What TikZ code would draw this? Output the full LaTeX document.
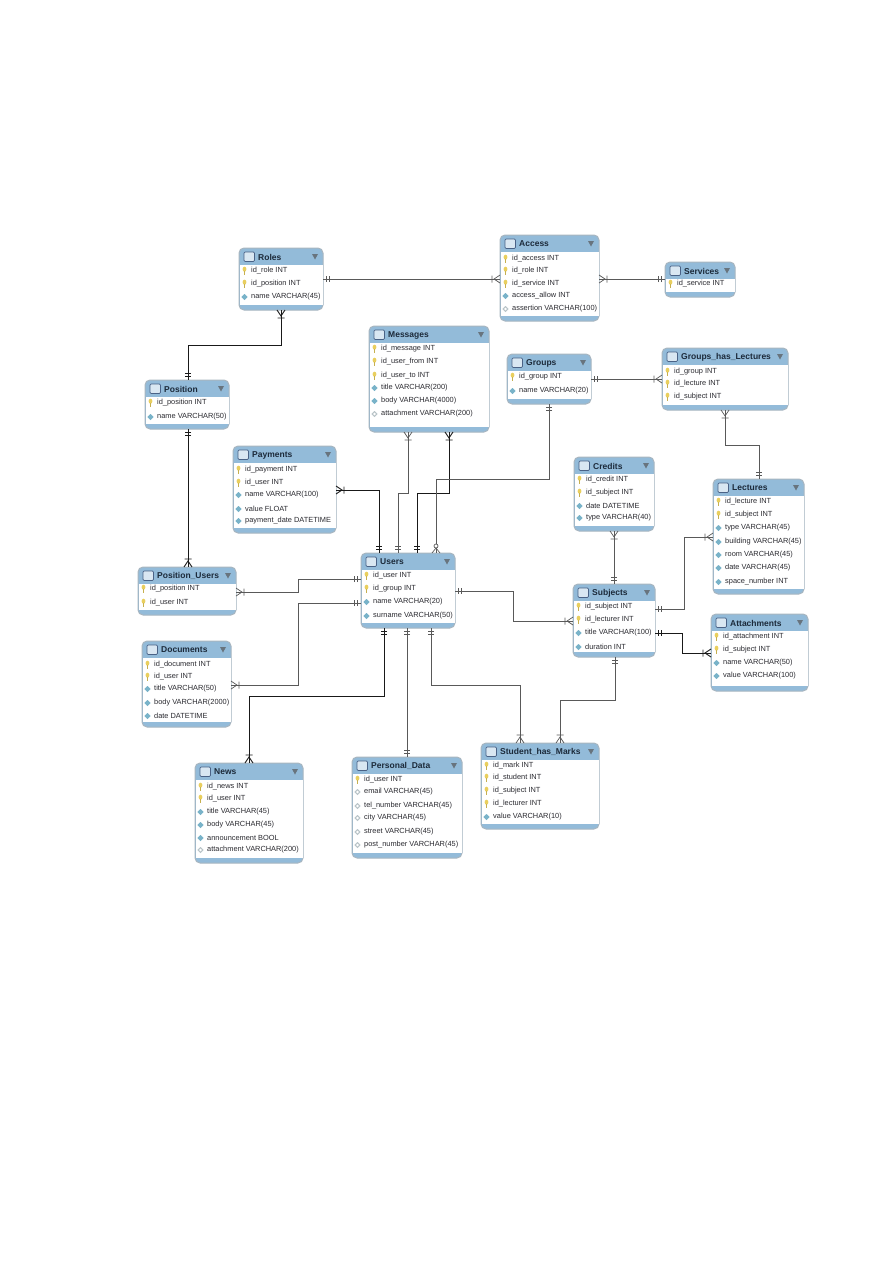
\documentclass[tikz,border=0pt]{standalone}
\usepackage{fontspec}
\setmainfont{Liberation Sans}
\definecolor{hdr}{HTML}{93BBD9}
\definecolor{edgec}{HTML}{A8B6C0}
\definecolor{titlec}{HTML}{1C2A3A}
\definecolor{rowc}{HTML}{2A2A30}
\definecolor{keyc}{HTML}{E9CF5E}
\definecolor{nnc}{HTML}{79B3C9}
\definecolor{nullc}{HTML}{B9C4C8}
\definecolor{tric}{HTML}{68747E}
\definecolor{iconc}{HTML}{4A6286}
\tikzset{
  x=1pt,y=-1pt,
  tablebox/.style={draw=edgec,line width=1pt,fill=hdr,rounded corners=5pt,inner sep=0pt,outer sep=0pt},
  tabletitle/.style={anchor=west,inner sep=0pt,font=\fontsize{8.5}{9}\selectfont\bfseries,text=titlec},
  rowtext/.style={anchor=west,inner sep=0pt,font=\fontsize{7.4}{9}\selectfont,text=rowc},
  rel/.style={draw=black!65,line width=0.7pt},
  relbold/.style={draw=black!90,line width=0.9pt},
  pics/one/.style={code={
    \draw (3.3,-3) -- (3.3,3) (6.3,-3) -- (6.3,3);}},
  pics/crow/.style={code={
    \draw (0,-4) -- (6,0) -- (0,4) (8,-3.5) -- (8,3.5);}},
  pics/zcrow/.style={code={
    \draw (0,-4) -- (5,0) -- (0,4);
    \draw[fill=white] (7,0) circle (2);}},
}
\newcommand\iconk[2]{%
  \fill[keyc] ({#1},{#2-1.8}) ellipse (1.9pt and 2.5pt);
  \fill[keyc!85!black] ({#1-0.7},{#2}) rectangle ({#1+0.9},{#2+3.6});}
\newcommand\icond[2]{%
  \fill[nnc] ({#1-3.2},{#2}) -- ({#1},{#2-3}) -- ({#1+3.2},{#2}) -- ({#1},{#2+3}) -- cycle;}
\newcommand\icong[2]{%
  \fill[nullc] ({#1-3.2},{#2}) -- ({#1},{#2-3}) -- ({#1+3.2},{#2}) -- ({#1},{#2+3}) -- cycle;
  \fill[white] ({#1-1.4},{#2}) -- ({#1},{#2-1.3}) -- ({#1+1.4},{#2}) -- ({#1},{#2+1.3}) -- cycle;}
% name, title, x0, y0, x1, y1, rows
\newcommand\tbl[7]{%
  \node[tablebox,minimum width={(#5-#3)*1pt},minimum height={(#6-#4)*1pt}] (#1) at ({(#3+#5)/2},{(#4+#6)/2}) {};
  \fill[white] ({#3+0.5},{#4+17}) rectangle ({#5-0.5},{#6-5});
  \draw[iconc,fill=hdr!35!white,line width=0.7pt,rounded corners=1.2pt] ({#3+5},{#4+4}) rectangle ({#3+15.5},{#4+13.5});
  \fill[tric] ({#5-11},{#4+6}) -- ({#5-5},{#4+6}) -- ({#5-8},{#4+11.5}) -- cycle;
  \node[tabletitle] (#1-title) at ({#3+19},{#4+9}) {#2};
  \foreach \kk/\yy/\txt [count=\ri] in {#7} {
    \csname icon\kk\endcsname{#3+5.5}{\yy}
    \node[rowtext] (#1-r\ri) at ({#3+12},\yy) {\txt};
  }
}
\begin{document}
\begin{tikzpicture}
\useasboundingbox (0,0) rectangle (893,1263);
\fill[white] (0,0) rectangle (893,1263);

\tbl{roles}{Roles}{239}{248}{323}{310}{k/271/id\_role INT,k/284/id\_position INT,d/297/name VARCHAR(45)}
\tbl{access}{Access}{500}{235}{599}{321}{k/259/id\_access INT,k/271/id\_role INT,k/284/id\_service INT,d/296/access\_allow INT,g/309/assertion VARCHAR(100)}
\tbl{services}{Services}{665}{262}{735}{297}{k/284/id\_service INT}
\tbl{position}{Position}{145}{380}{229}{429}{k/403/id\_position INT,d/417/name VARCHAR(50)}
\tbl{messages}{Messages}{369}{326}{489}{432}{k/349/id\_message INT,k/362/id\_user\_from INT,k/376/id\_user\_to INT,d/388/title VARCHAR(200),d/401/body VARCHAR(4000),g/414/attachment VARCHAR(200)}
\tbl{groups}{Groups}{507}{354}{591}{404}{k/377/id\_group INT,d/391/name VARCHAR(20)}
\tbl{ghl}{Groups\_has\_Lectures}{662}{348}{788}{410}{k/372/id\_group INT,k/384/id\_lecture INT,k/397/id\_subject INT}
\tbl{payments}{Payments}{233}{446}{336}{533}{k/470/id\_payment INT,k/483/id\_user INT,d/495/name VARCHAR(100),d/509/value FLOAT,d/521/payment\_date DATETIME}
\tbl{credits}{Credits}{574}{457}{654}{531}{k/480/id\_credit INT,k/493/id\_subject INT,d/506/date DATETIME,d/518/type VARCHAR(40)}
\tbl{lectures}{Lectures}{713}{479}{804}{594}{k/502/id\_lecture INT,k/515/id\_subject INT,d/528/type VARCHAR(45),d/542/building VARCHAR(45),d/555/room VARCHAR(45),d/568/date VARCHAR(45),d/582/space\_number INT}
\tbl{users}{Users}{361}{553}{455}{628}{k/576/id\_user INT,k/589/id\_group INT,d/602/name VARCHAR(20),d/616/surname VARCHAR(50)}
\tbl{posusers}{Position\_Users}{138}{567}{236}{615}{k/589/id\_position INT,k/603/id\_user INT}
\tbl{documents}{Documents}{142}{641}{231}{727}{k/665/id\_document INT,k/677/id\_user INT,d/689/title VARCHAR(50),d/703/body VARCHAR(2000),d/716/date DATETIME}
\tbl{news}{News}{195}{763}{303}{863}{k/787/id\_news INT,k/799/id\_user INT,d/812/title VARCHAR(45),d/825/body VARCHAR(45),d/838/announcement BOOL,g/850/attachment VARCHAR(200)}
\tbl{personal}{Personal\_Data}{352}{757}{462}{858}{k/780/id\_user INT,g/792/email VARCHAR(45),g/806/tel\_number VARCHAR(45),g/818/city VARCHAR(45),g/832/street VARCHAR(45),g/845/post\_number VARCHAR(45)}
\tbl{subjects}{Subjects}{573}{584}{655}{657}{k/607/id\_subject INT,k/620/id\_lecturer INT,d/633/title VARCHAR(100),d/647/duration INT}
\tbl{attachments}{Attachments}{711}{614}{808}{691}{k/637/id\_attachment INT,k/650/id\_subject INT,d/663/name VARCHAR(50),d/676/value VARCHAR(100)}
\tbl{marks}{Student\_has\_Marks}{481}{743}{599}{829}{k/766/id\_mark INT,k/778/id\_student INT,k/791/id\_subject INT,k/804/id\_lecturer INT,d/817/value VARCHAR(10)}

% connectors
\draw[rel] (roles.east |- 0,279) pic[rotate=0]{one} -- (access.west |- 0,279) pic[rotate=180]{crow};
\draw[relbold] (281,0 |- roles.south) pic[rotate=-90]{crow} -- (281,345) -- (188,345) -- (188,0 |- position.north) pic[rotate=90]{one};
\draw[relbold] (188,0 |- position.south) pic[rotate=-90]{one} -- (188,0 |- posusers.north) pic[rotate=90]{crow};
\draw[rel] (408,0 |- messages.south) pic[rotate=-90]{crow} -- (408,493) -- (398,493) -- (398,0 |- users.north) pic[rotate=90]{one};
\draw[relbold] (449,0 |- messages.south) pic[rotate=-90]{crow} -- (449,493) -- (417,493) -- (417,0 |- users.north) pic[rotate=90]{one};
\draw[relbold] (payments.east |- 0,490) pic[rotate=0]{crow} -- (379,490) -- (379,0 |- users.north) pic[rotate=90]{one};
\draw[rel] (549,0 |- groups.south) pic[rotate=-90]{one} -- (549,479) -- (436,479) -- (436,0 |- users.north) pic[rotate=90]{zcrow};
\draw[rel] (groups.east |- 0,379) pic[rotate=0]{one} -- (ghl.west |- 0,379) pic[rotate=180]{crow};
\draw[rel] (725,0 |- ghl.south) pic[rotate=-90]{crow} -- (725,445) -- (759,445) -- (759,0 |- lectures.north) pic[rotate=90]{one};
\draw[rel] (access.east |- 0,279) pic[rotate=0]{crow} -- (services.west |- 0,279) pic[rotate=180]{one};
\draw[rel] (614,0 |- credits.south) pic[rotate=-90]{crow} -- (614,0 |- subjects.north) pic[rotate=90]{one};
\draw[rel] (lectures.west |- 0,537) pic[rotate=180]{crow} -- (684,537) -- (684,609) -- (subjects.east |- 0,609) pic[rotate=0]{one};
\draw[relbold] (subjects.east |- 0,633) pic[rotate=0]{one} -- (682,633) -- (682,653) -- (attachments.west |- 0,653) pic[rotate=180]{crow};
\draw[rel] (users.east |- 0,591) pic[rotate=0]{one} -- (513,591) -- (513,621) -- (subjects.west |- 0,621) pic[rotate=180]{crow};
\draw[rel] (users.west |- 0,579) pic[rotate=180]{one} -- (298,579) -- (298,592) -- (posusers.east |- 0,592) pic[rotate=0]{crow};
\draw[rel] (users.west |- 0,603) pic[rotate=180]{one} -- (298,603) -- (298,685) -- (documents.east |- 0,685) pic[rotate=0]{crow};
\draw[relbold] (384,0 |- users.south) pic[rotate=-90]{one} -- (384,696) -- (249,696) -- (249,0 |- news.north) pic[rotate=90]{crow};
\draw[rel] (407,0 |- users.south) pic[rotate=-90]{one} -- (407,0 |- personal.north) pic[rotate=90]{one};
\draw[rel] (431,0 |- users.south) pic[rotate=-90]{one} -- (431,685) -- (520,685) -- (520,0 |- marks.north) pic[rotate=90]{crow};
\draw[rel] (615,0 |- subjects.south) pic[rotate=-90]{one} -- (615,700) -- (560,700) -- (560,0 |- marks.north) pic[rotate=90]{crow};
\end{tikzpicture}
\end{document}
